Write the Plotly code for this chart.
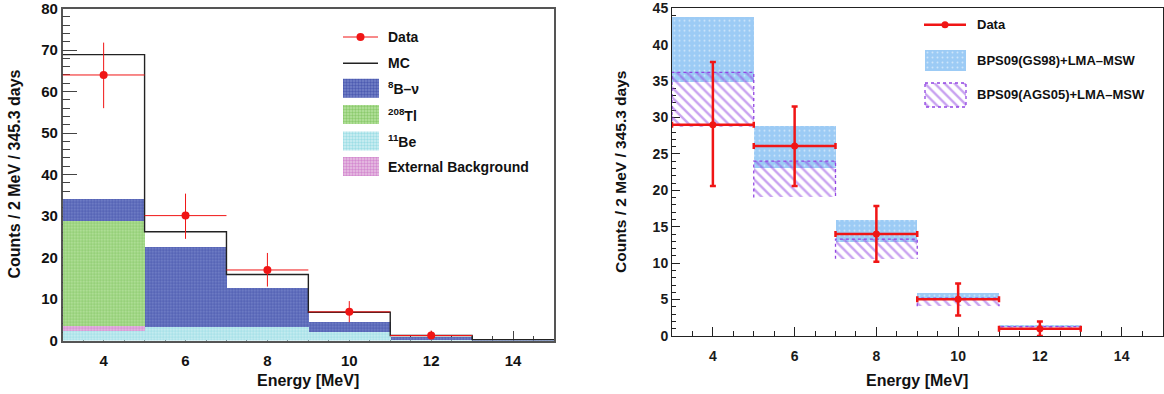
import numpy as np
import plotly.graph_objects as go

W, H = 1164, 394
FONT = "Liberation Sans, Arial, Helvetica, sans-serif"

# ---------------- data: left panel ----------------
bin_edges = [3, 5, 7, 9, 11, 13, 15]
bin_centers = [4, 6, 8, 10, 12, 14]
be11 = [2.4, 3.4, 3.4, 2.2, 0.3, 0.1]
ext_bkg = [1.2, 0.0, 0.0, 0.0, 0.0, 0.0]
tl208 = [25.3, 0.0, 0.0, 0.0, 0.0, 0.0]
b8nu = [5.4, 19.3, 9.3, 2.4, 0.7, 0.1]
mc_total = [68.9, 26.2, 15.9, 6.8, 1.2, 0.2]

data_x = [4, 6, 8, 10, 12]
data_left = [64.0, 30.1, 17.0, 6.9, 1.2]
data_left_hi = [71.8, 35.4, 21.1, 9.5, 2.4]
data_left_lo = [56.0, 24.5, 13.0, 4.4, 0.4]

# ---------------- data: right panel ----------------
model_x = [4, 6, 8, 10, 12]
gs98_lo = [34.9, 23.0, 12.9, 4.9, 1.2]
gs98_hi = [43.7, 28.8, 15.95, 5.9, 1.5]
ags05_lo = [28.7, 19.0, 10.6, 4.1, 0.8]
ags05_hi = [36.2, 24.0, 13.3, 5.2, 1.3]
data_right = [29.0, 26.1, 14.0, 5.05, 1.0]
data_right_hi = [37.6, 31.5, 17.85, 7.2, 2.0]
data_right_lo = [20.6, 20.6, 10.2, 2.8, 0.0]

x_ticks = [4, 6, 8, 10, 12, 14]
y_ticks_left = [0, 10, 20, 30, 40, 50, 60, 70, 80]
y_ticks_right = [0, 5, 10, 15, 20, 25, 30, 35, 40, 45]

# ---------------- styles ----------------
C_B8 = dict(bg="#7683c8", fg="#24349a")
C_TL = dict(bg="#b8e4a0", fg="#5fb03c")
C_BE = dict(bg="#d0eff3", fg="#6ccbd8")
C_EXT = dict(bg="#e8c4e4", fg="#c050bc")
C_GS = dict(bg="#9ccbf5", fg="#ffffff")
C_AGS = "#9246e2"
RED = "#f01515"

edges = np.array(bin_edges, dtype=float)
widths = np.diff(edges)
half = widths / 2.0

fig = go.Figure()

# ----- left: stacked MC components -----
components = [(be11, C_BE), (ext_bkg, C_EXT), (tl208, C_TL), (b8nu, C_B8)]
base = np.zeros(len(bin_centers))
for vals, col in components:
    v = np.array(vals, dtype=float)
    fig.add_trace(go.Bar(
        x=bin_centers, y=v, base=base.copy(), width=widths,
        marker=dict(color=col["bg"], line=dict(width=0),
                    pattern=dict(shape=".", fgcolor=col["fg"], bgcolor=col["bg"],
                                 size=3, solidity=0.5)),
        xaxis="x", yaxis="y", showlegend=False, hoverinfo="skip"))
    base = base + v

# MC total outline
fig.add_trace(go.Scatter(
    x=bin_edges, y=mc_total + [mc_total[-1]], mode="lines",
    line=dict(shape="hv", color="#222", width=1.4),
    xaxis="x", yaxis="y", showlegend=False, hoverinfo="skip"))

# Data (left)
dl = np.array(data_left)
fig.add_trace(go.Scatter(
    x=data_x, y=data_left, mode="markers",
    marker=dict(color=RED, size=8),
    error_x=dict(type="data", array=half[:len(data_x)], color=RED, thickness=1, width=0),
    error_y=dict(type="data", symmetric=False,
                 array=np.array(data_left_hi) - dl, arrayminus=dl - np.array(data_left_lo),
                 color=RED, thickness=1, width=0),
    xaxis="x", yaxis="y", showlegend=False, hoverinfo="skip"))

# ----- right: model bands -----
mw = widths[:len(model_x)]
gl, gh = np.array(gs98_lo), np.array(gs98_hi)
al, ah = np.array(ags05_lo), np.array(ags05_hi)
fig.add_trace(go.Bar(
    x=model_x, y=gh - gl, base=gl, width=mw,
    marker=dict(color=C_GS["bg"], line=dict(width=0),
                pattern=dict(shape=".", fgcolor=C_GS["fg"], bgcolor=C_GS["bg"], size=5, solidity=0.12)),
    xaxis="x2", yaxis="y2", showlegend=False, hoverinfo="skip"))
fig.add_trace(go.Bar(
    x=model_x, y=ah - al, base=al, width=mw,
    marker=dict(color="rgba(0,0,0,0)", line=dict(width=0),
                pattern=dict(shape="\\", fgcolor=C_AGS, bgcolor="rgba(0,0,0,0)", size=7, solidity=0.35)),
    xaxis="x2", yaxis="y2", showlegend=False, hoverinfo="skip"))
# dashed outline of AGS05 boxes
ox, oy = [], []
for xc, w, lo, hi in zip(model_x, mw, ags05_lo, ags05_hi):
    x0, x1 = xc - w / 2, xc + w / 2
    ox += [x0, x0, x1, x1, None]
    oy += [lo, hi, hi, lo, None]
fig.add_trace(go.Scatter(
    x=ox, y=oy, mode="lines", line=dict(color=C_AGS, width=1.3, dash="dot"),
    xaxis="x2", yaxis="y2", showlegend=False, hoverinfo="skip"))

# Data (right)
dr = np.array(data_right)
fig.add_trace(go.Scatter(
    x=data_x, y=data_right, mode="markers",
    marker=dict(color=RED, size=7),
    error_x=dict(type="data", array=half[:len(data_x)], color=RED, thickness=2.5, width=3),
    error_y=dict(type="data", symmetric=False,
                 array=np.array(data_right_hi) - dr, arrayminus=dr - np.array(data_right_lo),
                 color=RED, thickness=2.5, width=3),
    xaxis="x2", yaxis="y2", showlegend=False, hoverinfo="skip"))

# ----- legend (drawn on a hidden pixel-space overlay axis) -----
def swatch(x0, y0, x1, y1, bg, fg, shape, size, solidity, line=None):
    return go.Scatter(
        x=[x0, x1, x1, x0, x0], y=[y0, y0, y1, y1, y0], mode="lines", fill="toself",
        fillcolor=bg,
        fillpattern=dict(shape=shape, fgcolor=fg, bgcolor=bg, size=size, solidity=solidity),
        line=line if line else dict(width=0, color=bg),
        xaxis="x3", yaxis="y3", showlegend=False, hoverinfo="skip")

def legline(x0, x1, y, color, width, marker_size=None):
    fig.add_trace(go.Scatter(x=[x0, x1], y=[y, y], mode="lines", line=dict(color=color, width=width),
                             xaxis="x3", yaxis="y3", showlegend=False, hoverinfo="skip"))
    if marker_size:
        fig.add_trace(go.Scatter(x=[(x0 + x1) / 2], y=[y], mode="markers",
                                 marker=dict(color=color, size=marker_size),
                                 xaxis="x3", yaxis="y3", showlegend=False, hoverinfo="skip"))

legline(343, 378, 37, RED, 1, 8)
legline(343, 378, 63.3, "#222", 1.4)
for yc, col in [(88.3, C_B8), (114.5, C_TL), (141, C_BE), (166.5, C_EXT)]:
    fig.add_trace(swatch(343, yc - 9.5, 379, yc + 9.5, col["bg"], col["fg"], ".", 3, 0.5))

legline(924, 966, 24.7, RED, 2.5, 7)
fig.add_trace(swatch(925, 50, 966, 71, C_GS["bg"], C_GS["fg"], ".", 5, 0.12))
fig.add_trace(swatch(925, 83, 966, 107, "rgba(255,255,255,0)", C_AGS, "\\", 7, 0.35,
                     line=dict(color=C_AGS, width=1.3, dash="dot")))

annotations = []

def text(x, y, s, size, xanchor="left", angle=0, color="#111"):
    annotations.append(dict(
        x=x / W, y=1 - y / H, xref="paper", yref="paper", text=s, showarrow=False,
        xanchor=xanchor, yanchor="middle", textangle=angle,
        font=dict(family=FONT, size=size, color=color, weight="bold")))

for yc, s in [(37, "Data"), (63.3, "MC"), (88.3, "<sup>8</sup>B\u2013\u03bd"),
              (114.5, "<sup>208</sup>Tl"), (141, "<sup>11</sup>Be"), (166.5, "External Background")]:
    text(386, yc, s, 14)
for yc, s in [(24.7, "Data"), (60.5, "BPS09(GS98)+LMA\u2013MSW"), (94.7, "BPS09(AGS05)+LMA\u2013MSW")]:
    text(975, yc, s, 13)

# axis titles
text(308, 380, "Energy [MeV]", 16, xanchor="center")
text(917, 380, "Energy [MeV]", 16, xanchor="center")
text(14, 174.5, "Counts / 2 MeV / 345.3 days", 16, xanchor="center", angle=-90)
text(620, 172, "Counts / 2 MeV / 345.3 days", 15.5, xanchor="center", angle=-90)

# ----- axes -----
def xdom(a, b):
    return [a / W, b / W]

def ydom(top, bottom):
    return [1 - bottom / H, 1 - top / H]

tick_font_l = dict(family=FONT, size=15, color="#111", weight="bold")
tick_font_r = dict(family=FONT, size=14, color="#1a1a1a", weight="bold")

common = dict(showgrid=False, zeroline=False, showline=True, mirror=True,
              ticks="inside", layer="below traces", fixedrange=True,
              ticklabeloverflow="allow", automargin=False)

fig.update_layout(
    width=W, height=H, margin=dict(l=0, r=0, t=0, b=0, autoexpand=False),
    paper_bgcolor="white", plot_bgcolor="rgba(0,0,0,0)",
    barmode="overlay", bargap=0, showlegend=False,
    annotations=annotations,
    xaxis=dict(domain=xdom(62.7, 554), range=[3, 15], anchor="y",
               tickmode="array", tickvals=x_ticks, ticklen=10, tickcolor="#444",
               linecolor="#555", linewidth=1.5, tickfont=tick_font_l, ticklabelstandoff=6,
               minor=dict(dtick=0.5, tick0=0, ticklen=5, ticks="inside", tickcolor="#444"),
               **common),
    yaxis=dict(domain=ydom(8.6, 340.5), range=[0, 80], anchor="x",
               tickmode="array", tickvals=y_ticks_left,
               ticklen=15, tickcolor="#444",
               linecolor="#555", linewidth=1.5, tickfont=tick_font_l,
               minor=dict(dtick=2, ticklen=8, ticks="inside", tickcolor="#444"),
               **common),
    xaxis2=dict(domain=xdom(672, 1162.5), range=[3, 15], anchor="y2",
                tickmode="array", tickvals=x_ticks, ticklen=9, tickcolor="#222",
                linecolor="#222", linewidth=1, tickfont=tick_font_r, ticklabelstandoff=7,
                minor=dict(dtick=0.5, tick0=0, ticklen=5, ticks="inside", tickcolor="#222"),
                **common),
    yaxis2=dict(domain=ydom(8.2, 336), range=[0, 45], anchor="x2",
                tickmode="array", tickvals=y_ticks_right,
                ticklen=8, tickcolor="#222",
                linecolor="#222", linewidth=1, tickfont=tick_font_r,
                minor=dict(dtick=1, ticklen=4, ticks="inside", tickcolor="#222"),
                **common),
    xaxis3=dict(domain=[0, 1], range=[0, W], visible=False, anchor="y3", fixedrange=True),
    yaxis3=dict(domain=[0, 1], range=[H, 0], visible=False, anchor="x3", fixedrange=True),
)

fig.write_html("out.html")
